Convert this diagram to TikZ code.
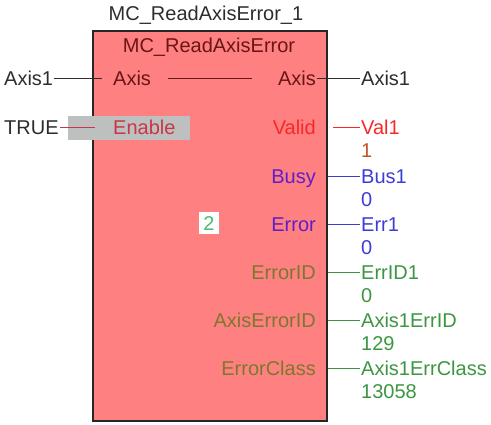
\documentclass[tikz,border=0pt]{standalone}
\usepackage{fontspec}
\setmainfont{Liberation Sans}
\definecolor{fbfill}{RGB}{255,128,128}
\definecolor{fbdark}{RGB}{105,22,22}
\definecolor{wiregray}{RGB}{45,45,45}
\definecolor{enablered}{RGB}{200,55,70}
\definecolor{enablebg}{RGB}{190,192,192}
\definecolor{validred}{RGB}{248,40,40}
\definecolor{valorange}{RGB}{200,80,40}
\definecolor{pinpurple}{RGB}{95,30,200}
\definecolor{varblue}{RGB}{60,60,215}
\definecolor{pinolive}{RGB}{125,120,45}
\definecolor{vargreen}{RGB}{60,150,65}
\definecolor{stepgreen}{RGB}{80,185,110}
\usetikzlibrary{positioning}

\tikzset{
  txt/.style={inner sep=1pt, text height=14pt, text depth=0pt,
    font=\fontsize{20}{24}\selectfont},
  inpin/.style={txt, anchor=west},
  outpin/.style={txt, anchor=east},
  outvar/.style={txt, anchor=west},
  fbbox/.style={draw=black!85, line width=2pt, fill=fbfill,
    minimum width=234pt, minimum height=390pt, inner sep=0pt},
  wire/.style={line width=1pt}
}

\begin{document}
\begin{tikzpicture}[x=1pt, y=-1pt]
  \useasboundingbox (0,0) rectangle (491,424);

  % Function block
  \node[fbbox] (fb) at (210,226) {};
  \node[txt, text=wiregray] (inst) at (206,13) {MC\_ReadAxisError\_1};
  \node[txt, text=fbdark] (fbname) at (209,45) {MC\_ReadAxisError};

  % Enable highlight
  \fill[enablebg] (68,116) rectangle (190,140);

  % Inputs
  \node[inpin, text=wiregray] (axis1in) at (3,78) {Axis1};
  \node[inpin, text=fbdark] (axisin) at (112,78) {Axis};
  \node[inpin, text=wiregray] (truein) at (3,127) {TRUE};
  \node[inpin, text=enablered] (enable) at (112,127) {Enable};
  \draw[wire, wiregray, shorten >=10pt] (axis1in.east) -- (axisin.west);
  \draw[wire, enablered, shorten >=17pt] (truein.east) -- (enable.west);

  % Axis in/out link
  \node[outpin, text=fbdark] (axisout) at (317,78) {Axis};
  \draw[wire, fbdark, shorten <=16pt, shorten >=25pt] (axisin.east) -- (axisout.west);

  % Outputs
  \node[outvar, text=wiregray] (axis1out) at (360,78) {Axis1};
  \draw[wire, wiregray] (axisout.east) -- (axis1out.west);

  \node[outpin, text=validred] (valid) at (317,127) {Valid};
  \node[outvar, text=validred] (val1) at (360,127) {Val1};
  \node[outvar, text=valorange] (val1v) at (360,150) {1};
  \draw[wire, validred] ([xshift=5pt]fb.east |- valid.east) -- (val1.west);

  \node[outpin, text=pinpurple] (busy) at (317,176) {Busy};
  \node[outvar, text=varblue] (bus1) at (360,176) {Bus1};
  \node[outvar, text=varblue] (bus1v) at (360,199) {0};
  \draw[wire, varblue] (fb.east |- busy.east) -- (bus1.west);

  \node[outpin, text=pinpurple] (error) at (317,224) {Error};
  \node[outvar, text=varblue] (err1) at (360,224) {Err1};
  \node[outvar, text=varblue] (err1v) at (360,247) {0};
  \draw[wire, varblue] (fb.east |- error.east) -- (err1.west);

  \node[outpin, text=pinolive] (errorid) at (317,272) {ErrorID};
  \node[outvar, text=vargreen] (errid1) at (360,272) {ErrID1};
  \node[outvar, text=vargreen] (errid1v) at (360,295) {0};
  \draw[wire, vargreen] (fb.east |- errorid.east) -- (errid1.west);

  \node[outpin, text=pinolive] (axiserrid) at (317,320) {AxisErrorID};
  \node[outvar, text=vargreen] (axerrid) at (360,320) {Axis1ErrID};
  \node[outvar, text=vargreen] (axerridv) at (360,343) {129};
  \draw[wire, vargreen] (fb.east |- axiserrid.east) -- (axerrid.west);

  \node[outpin, text=pinolive] (errclass) at (317,368) {ErrorClass};
  \node[outvar, text=vargreen] (axerrcls) at (360,368) {Axis1ErrClass};
  \node[outvar, text=vargreen] (axerrclsv) at (360,391) {13058};
  \draw[wire, vargreen] (fb.east |- errclass.east) -- (axerrcls.west);

  % Execution order
  \node[txt, fill=white, text=stepgreen, inner sep=4pt] (order) at (209,223) {2};
\end{tikzpicture}
\end{document}
